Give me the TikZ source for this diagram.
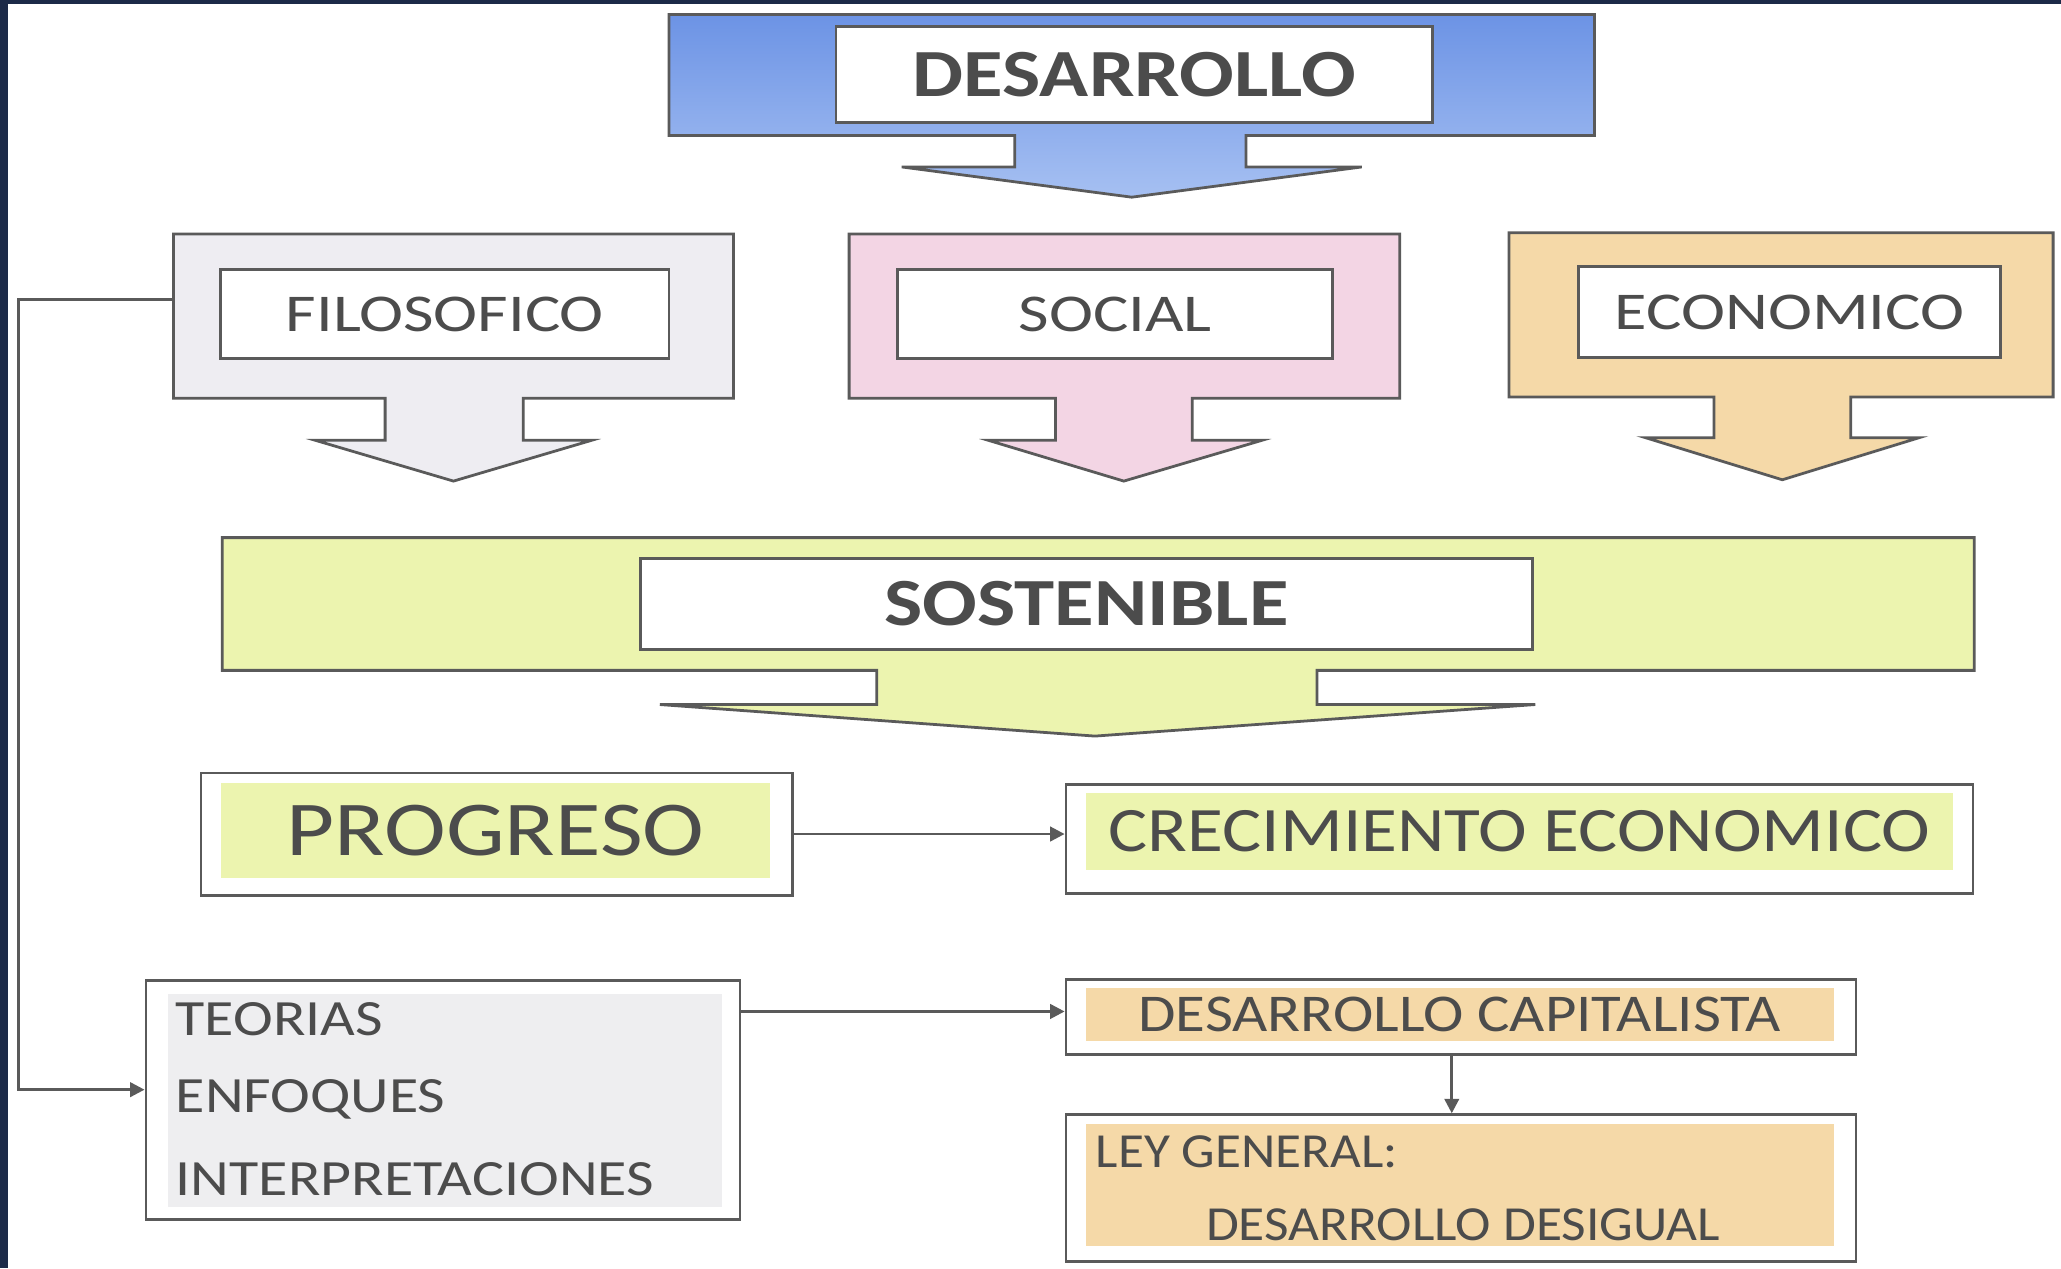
\documentclass[tikz,border=0pt]{standalone}
\usepackage{graphicx}
\usepackage{fontspec}
\setmainfont{Carlito}
\usetikzlibrary{arrows.meta}
\definecolor{navy}{HTML}{1C2A48}
\definecolor{ink}{HTML}{4C4C4C}
\definecolor{edge}{HTML}{5A5A5A}
\definecolor{blueA}{HTML}{6C93E5}
\definecolor{blueB}{HTML}{A6C0F2}
\definecolor{lilac}{HTML}{EEEDF2}
\definecolor{rose}{HTML}{F3D5E4}
\definecolor{peach}{HTML}{F5D9A8}
\definecolor{lime}{HTML}{ECF4AF}
\definecolor{paper}{HTML}{EEEEF0}
\newcommand{\wide}[2][1.2]{\scalebox{#1}[1]{#2}}
\newcommand{\fsz}[1]{\fontsize{#1}{#1}\selectfont}

\begin{document}
\begin{tikzpicture}[x=0.1mm, y=-0.1mm]
	\tikzstyle{edgeline}=[draw=edge, line width=0.6pt]
	\tikzstyle{head}=[edgeline, fill=white, text=ink, inner sep=0pt]
	\tikzstyle{frame}=[edgeline, fill=white, inner sep=0pt]
	\tikzstyle{band}=[inner sep=0pt, text=ink]
	\tikzstyle{txt}=[inner sep=0pt, text=ink]
	\tikzstyle{link}=[draw=edge, line width=0.6pt, -{Triangle[length=1.1mm, width=1.1mm]}]

	\useasboundingbox (0,0) rectangle (1568,965);
	\fill[white] (0,0) rectangle (1568,965);
	\fill[navy] (0,0) rectangle (1568,3);
	\fill[navy] (0,0) rectangle (6,965);

	\draw[edgeline, top color=blueA, bottom color=blueB] (509,11) -- (1213,11) -- (1213,103) -- (948,103) -- (948,127) -- (1036,127) -- (861,150) -- (686,127) -- (772,127) -- (772,103) -- (509,103) -- cycle;
	\node[head, minimum width=45.4mm, minimum height=7.3mm, font=\bfseries\fsz{14.6}] (desarrollo) at (863,56.5) {\wide{DESARROLLO}};

	\draw[edgeline, fill=lilac] (132,178) -- (558,178) -- (558,303) -- (398,303) -- (398,335) -- (450,335) -- (345,366) -- (240,335) -- (293,335) -- (293,303) -- (132,303) -- cycle;
	\node[head, minimum width=34.1mm, minimum height=6.8mm, font=\fsz{11.5}] (filosofico) at (338.5,239) {\wide[1.25]{FILOSOFICO}};

	\draw[edgeline, fill=rose] (646,178) -- (1065,178) -- (1065,303) -- (907,303) -- (907,335) -- (960,335) -- (855,366) -- (752,335) -- (803,335) -- (803,303) -- (646,303) -- cycle;
	\node[head, minimum width=33.1mm, minimum height=6.8mm, font=\fsz{11.5}] (social) at (848.5,239) {\wide[1.25]{SOCIAL}};

	\draw[edgeline, fill=peach] (1148,177) -- (1562,177) -- (1562,302) -- (1408,302) -- (1408,333) -- (1460,333) -- (1356,365) -- (1252,333) -- (1304,333) -- (1304,302) -- (1148,302) -- cycle;
	\node[head, minimum width=32.1mm, minimum height=6.9mm, font=\fsz{11.5}] (economico) at (1361.5,237.5) {\wide[1.25]{ECONOMICO}};

	\draw[edgeline, fill=lime] (169,409) -- (1502,409) -- (1502,510) -- (1002,510) -- (1002,536) -- (1168,536) -- (833,560) -- (502,536) -- (667,536) -- (667,510) -- (169,510) -- cycle;
	\node[head, minimum width=67.9mm, minimum height=6.9mm, font=\bfseries\fsz{14.6}] (sostenible) at (826.5,459.5) {\wide{SOSTENIBLE}};

	\node[frame, minimum width=45.0mm, minimum height=9.3mm] (progreso) at (378,634.5) {};
	\node[band, fill=lime, minimum width=41.8mm, minimum height=7.2mm, font=\fsz{16.8}] (progresoTxt) at (377,632) {\wide{PROGRESO}};

	\node[frame, minimum width=69.0mm, minimum height=8.3mm] (crecimiento) at (1156,638.5) {};
	\node[band, fill=lime, minimum width=66.0mm, minimum height=5.9mm, font=\fsz{13.7}] (crecimientoTxt) at (1156,632.5) {\wide[1.16]{CRECIMIENTO ECONOMICO}};

	\node[frame, minimum width=45.2mm, minimum height=18.2mm] (teorias) at (337,837) {};
	\node[band, fill=paper, minimum width=42.1mm, minimum height=16.2mm] (teoriasFill) at (338.5,837) {};
	\node[txt, anchor=west, font=\fsz{11}] (teo1) at (133,775) {\wide[1.18]{TEORIAS}};
	\node[txt, anchor=west, font=\fsz{11}] (teo2) at (133,836) {\wide[1.18]{ENFOQUES}};
	\node[txt, anchor=west, font=\fsz{11}] (teo3) at (133,897) {\wide[1.18]{INTERPRETACIONES}};

	\node[frame, minimum width=60.1mm, minimum height=5.7mm] (capital) at (1111.5,773.5) {};
	\node[band, fill=peach, minimum width=56.9mm, minimum height=4.0mm, font=\fsz{11.5}] (capitalTxt) at (1110.5,772) {\wide[1.146]{DESARROLLO CAPITALISTA}};

	\node[frame, minimum width=60.1mm, minimum height=11.2mm] (ley) at (1111.5,904) {};
	\node[band, fill=peach, minimum width=56.9mm, minimum height=9.3mm] (leyFill) at (1110.5,901.5) {};
	\node[txt, anchor=west, font=\fsz{10.6}] (ley1) at (833,876) {\wide[1.085]{LEY GENERAL:}};
	\node[txt, font=\fsz{10.6}] (ley2) at (1113,932) {\wide[1.09]{DESARROLLO DESIGUAL}};

	\coordinate (filoL) at (132,228);
	\draw[link] (filoL) -- ++(-118,0) |- ([yshift=0.8mm]teorias.west);
	\draw[link] (progreso.east) -- (progreso.east -| crecimiento.west);
	\draw[link] ([yshift=0.4mm]teorias.east |- capital.west) -- ([yshift=0.4mm]capital.west);
	\draw[link] ([xshift=-0.7mm]capital.south) -- ([xshift=-0.7mm]ley.north);
\end{tikzpicture}
\end{document}
